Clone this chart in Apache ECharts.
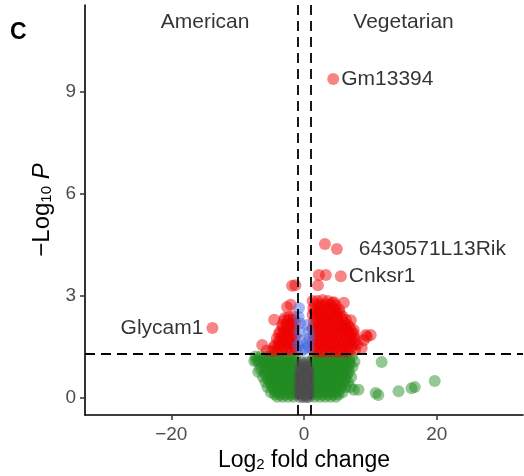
<!DOCTYPE html>
<html>
<head>
<meta charset="utf-8">
<script src="https://cdn.jsdelivr.net/npm/echarts@6/dist/echarts.min.js"></script>
<style>
html, body { margin: 0; padding: 0; background: #fff; }
#chart { width: 524px; height: 476px; }
</style>
</head>
<body>
<div id="chart"></div>
<script>
// values: [log2 fold change, -log10 p]
const xTicks = [-20, 0, 20];
const yTicks = [0, 3, 6, 9];
const groupNames = ['American', 'Vegetarian'];
const groupPos = [[-14.9, 11.06], [15, 11.06]];
const fcCut = 1;
const pCut = 1.301;

// labelled genes
const geneNames = ['Gm13394', '6430571L13Rik', 'Cnksr1', 'Glycam1'];
const geneFC = [4.4, 4.95, 5.55, -13.8];
const geneP = [9.38, 4.38, 3.58, 2.06];

// p and log2FC (red)
const sigBoth = [
  [3.15, 4.53], [2.25, 3.62], [3.3, 3.62], [2.1, 3.32], [-1.8, 3.3], [-1.3, 3.32],
  [-2.0, 2.74], [-2.55, 2.68], [-4.5, 2.3], [-6.3, 1.56], [-5.6, 1.4],
  [6.0, 2.8], [4.5, 2.82], [4.95, 2.53], [7.05, 2.29], [7.5, 2.0],
  [9.3, 1.85], [10.05, 1.85], [9.0, 1.7], [8.7, 1.47], [9.5, 1.8],
  [1.3, 2.85], [2.0, 2.85], [2.8, 2.88], [3.6, 2.85], [4.3, 2.8],
  [1.7, 2.75], [2.4, 2.75], [3.2, 2.76], [4.0, 2.74], [4.8, 2.72],
  [1.4, 2.65], [2.2, 2.65], [3.0, 2.68], [3.8, 2.65], [4.6, 2.62], [5.3, 2.6],
  [1.6, 2.55], [2.3, 2.55], [3.0, 2.56], [3.8, 2.55], [4.6, 2.53], [5.4, 2.5],
  [1.3, 2.45], [1.9, 2.45], [2.6, 2.47], [3.4, 2.45], [4.2, 2.45], [5.0, 2.42], [5.8, 2.4],
  [1.7, 2.35], [2.6, 2.35], [3.4, 2.36], [4.1, 2.35], [4.9, 2.34], [5.7, 2.32], [6.3, 2.3],
  [1.5, 2.25], [2.3, 2.25], [3.0, 2.27], [3.7, 2.25], [4.5, 2.25], [5.3, 2.22], [6.1, 2.2], [6.6, 2.15],
  [1.7, 2.15], [2.4, 2.15], [3.2, 2.16], [3.9, 2.15], [4.7, 2.15], [5.5, 2.13], [6.2, 2.1], [6.9, 2.08],
  [1.3, 2.05], [2.0, 2.05], [2.8, 2.07], [3.5, 2.05], [4.3, 2.05], [5.1, 2.05], [5.8, 2.03], [6.5, 2.0], [7.2, 1.95],
  [1.7, 1.95], [2.4, 1.95], [3.2, 1.96], [3.9, 1.95], [4.7, 1.95], [5.5, 1.94], [6.2, 1.93], [6.9, 1.9], [7.5, 1.88],
  [1.5, 1.85], [2.2, 1.85], [3.0, 1.87], [3.8, 1.85], [4.6, 1.85], [5.4, 1.85], [6.2, 1.83], [6.9, 1.8], [7.6, 1.78],
  [1.7, 1.75], [2.5, 1.75], [3.3, 1.76], [4.0, 1.75], [4.8, 1.75], [5.6, 1.74], [6.4, 1.73], [7.1, 1.72], [7.8, 1.7],
  [1.3, 1.65], [2.1, 1.65], [2.9, 1.67], [3.6, 1.65], [4.4, 1.65], [5.2, 1.65], [6.0, 1.63], [6.7, 1.62], [7.4, 1.6], [8.0, 1.58],
  [1.8, 1.55], [2.5, 1.55], [3.3, 1.56], [4.0, 1.55], [4.8, 1.55], [5.6, 1.54], [6.4, 1.53], [7.2, 1.52],
  [1.4, 1.45], [2.2, 1.45], [3.0, 1.47], [3.8, 1.45], [4.6, 1.45], [5.4, 1.45], [6.2, 1.44], [7.0, 1.43], [7.7, 1.42],
  [1.8, 1.36], [2.6, 1.36], [3.4, 1.36], [4.2, 1.36], [5.0, 1.36], [5.8, 1.36], [6.6, 1.36],
  [-1.6, 2.4], [-2.3, 2.38], [-2.9, 2.35],
  [-1.6, 2.3], [-2.3, 2.3], [-3.0, 2.28],
  [-1.3, 2.2], [-1.9, 2.2], [-2.6, 2.18], [-3.3, 2.15],
  [-1.7, 2.1], [-2.5, 2.1], [-3.2, 2.08],
  [-1.5, 2.0], [-2.2, 2.0], [-2.9, 1.98], [-3.6, 1.95],
  [-1.7, 1.9], [-2.4, 1.9], [-3.1, 1.9], [-3.8, 1.88],
  [-1.3, 1.8], [-2.0, 1.8], [-2.7, 1.8], [-3.4, 1.78], [-4.1, 1.75],
  [-1.7, 1.7], [-2.4, 1.7], [-3.1, 1.7], [-3.8, 1.68],
  [-1.5, 1.6], [-2.3, 1.6], [-3.0, 1.6], [-3.7, 1.58], [-4.4, 1.55],
  [-1.6, 1.5], [-2.4, 1.5], [-3.1, 1.5], [-3.9, 1.5], [-4.6, 1.48],
  [-1.2, 1.42], [-1.9, 1.42], [-2.6, 1.42], [-3.3, 1.4], [-4.0, 1.4], [-4.8, 1.38]
];

// p only (blue)
const pOnly = [
  [-0.75, 2.65], [-0.8, 2.38], [-0.6, 2.2], [-0.75, 1.94], [-0.9, 1.55], [-0.5, 1.7],
  [0.75, 1.94], [0.8, 1.76], [0.45, 1.62], [0.5, 2.15], [0.7, 1.5], [-0.3, 1.4], [0.2, 1.45]
];

// log2FC only (green)
const fcOnly = [
  [11.7, 1.06], [8.2, 0.24], [11.2, 0.09], [14.25, 0.2], [16.2, 0.29], [16.7, 0.32],
  [19.7, 0.5], [10.8, 0.15], [7.5, 0.24], [-7.2, 1.1], [-7.5, 1.09], [-4.8, 0.76],
  [-7.3, 1.22], [-6.5, 1.22], [-5.6, 1.22], [-4.8, 1.22], [-4.0, 1.22], [-3.2, 1.22], [-2.4, 1.22], [-1.6, 1.22],
  [1.6, 1.22], [2.4, 1.22], [3.2, 1.22], [4.0, 1.22], [4.8, 1.22], [5.6, 1.22], [6.4, 1.22], [7.2, 1.22],
  [-6.9, 1.15], [-6.1, 1.15], [-5.2, 1.15], [-4.4, 1.15], [-3.6, 1.15], [-2.8, 1.15], [-2.0, 1.15], [-1.3, 1.15],
  [1.3, 1.15], [2.0, 1.15], [2.8, 1.15], [3.6, 1.15], [4.4, 1.15], [5.2, 1.15], [6.0, 1.15], [6.8, 1.15],
  [-6.8, 1.07], [-6.0, 1.07], [-5.2, 1.07], [-4.4, 1.07], [-3.6, 1.07], [-2.8, 1.07], [-2.0, 1.07], [-1.3, 1.07],
  [1.3, 1.07], [2.0, 1.07], [2.8, 1.07], [3.6, 1.07], [4.4, 1.07], [5.2, 1.07], [6.0, 1.07], [6.8, 1.07], [7.6, 1.07],
  [-6.0, 1.0], [-5.2, 1.0], [-4.4, 1.0], [-3.6, 1.0], [-2.8, 1.0], [-2.0, 1.0], [-1.3, 1.0],
  [1.3, 1.0], [2.0, 1.0], [2.8, 1.0], [3.6, 1.0], [4.4, 1.0], [5.2, 1.0], [6.0, 1.0], [6.9, 1.0],
  [-6.4, 0.92], [-5.6, 0.92], [-4.8, 0.92], [-4.0, 0.92], [-3.2, 0.92], [-2.4, 0.92], [-1.6, 0.92],
  [1.6, 0.92], [2.4, 0.92], [3.2, 0.92], [4.0, 0.92], [4.8, 0.92], [5.6, 0.92], [6.4, 0.92], [7.3, 0.92],
  [-6.6, 0.85], [-5.8, 0.85], [-5.0, 0.85], [-4.2, 0.85], [-3.4, 0.85], [-2.6, 0.85], [-1.8, 0.85], [-1.2, 0.85],
  [1.2, 0.85], [1.8, 0.85], [2.6, 0.85], [3.4, 0.85], [4.2, 0.85], [5.0, 0.85], [5.8, 0.85], [6.6, 0.85],
  [-6.9, 0.77], [-6.0, 0.77], [-5.2, 0.77], [-4.4, 0.77], [-3.6, 0.77], [-2.8, 0.77], [-2.0, 0.77], [-1.3, 0.77],
  [1.3, 0.77], [2.0, 0.77], [2.8, 0.77], [3.6, 0.77], [4.4, 0.77], [5.2, 0.77], [6.0, 0.77], [6.8, 0.77],
  [-5.8, 0.7], [-5.0, 0.7], [-4.2, 0.7], [-3.4, 0.7], [-2.6, 0.7], [-1.8, 0.7], [-1.2, 0.7],
  [1.2, 0.7], [1.8, 0.7], [2.6, 0.7], [3.4, 0.7], [4.2, 0.7], [5.0, 0.7], [5.8, 0.7], [6.5, 0.7],
  [-6.2, 0.62], [-5.4, 0.62], [-4.6, 0.62], [-3.8, 0.62], [-3.0, 0.62], [-2.2, 0.62], [-1.5, 0.62],
  [1.5, 0.62], [2.2, 0.62], [3.0, 0.62], [3.8, 0.62], [4.6, 0.62], [5.4, 0.62], [6.2, 0.62], [7.1, 0.62],
  [-5.4, 0.55], [-4.6, 0.55], [-3.8, 0.55], [-3.0, 0.55], [-2.2, 0.55], [-1.5, 0.55],
  [1.5, 0.55], [2.2, 0.55], [3.0, 0.55], [3.8, 0.55], [4.6, 0.55], [5.4, 0.55], [6.2, 0.55],
  [-5.8, 0.47], [-5.0, 0.47], [-4.2, 0.47], [-3.4, 0.47], [-2.6, 0.47], [-1.8, 0.47], [-1.2, 0.47],
  [1.2, 0.47], [1.8, 0.47], [2.6, 0.47], [3.4, 0.47], [4.2, 0.47], [5.0, 0.47], [5.8, 0.47], [6.6, 0.47],
  [-5.0, 0.4], [-4.2, 0.4], [-3.4, 0.4], [-2.6, 0.4], [-1.9, 0.4], [-1.2, 0.4],
  [1.2, 0.4], [1.9, 0.4], [2.6, 0.4], [3.4, 0.4], [4.2, 0.4], [5.0, 0.4], [5.8, 0.4],
  [-5.5, 0.32], [-4.7, 0.32], [-3.9, 0.32], [-3.1, 0.32], [-2.3, 0.32], [-1.5, 0.32],
  [1.5, 0.32], [2.3, 0.32], [3.1, 0.32], [3.9, 0.32], [4.7, 0.32], [5.5, 0.32], [6.3, 0.32], [7.0, 0.32],
  [-4.6, 0.25], [-3.8, 0.25], [-3.0, 0.25], [-2.2, 0.25], [-1.5, 0.25],
  [1.5, 0.25], [2.2, 0.25], [3.0, 0.25], [3.8, 0.25], [4.6, 0.25], [5.4, 0.25],
  [-5.0, 0.17], [-4.2, 0.17], [-3.4, 0.17], [-2.6, 0.17], [-1.8, 0.17], [-1.2, 0.17],
  [1.2, 0.17], [1.8, 0.17], [2.6, 0.17], [3.4, 0.17], [4.2, 0.17], [5.0, 0.17], [5.8, 0.17],
  [-4.4, 0.1], [-3.6, 0.1], [-2.8, 0.1], [-2.0, 0.1], [-1.3, 0.1],
  [1.3, 0.1], [2.0, 0.1], [2.8, 0.1], [3.6, 0.1], [4.4, 0.1], [5.2, 0.1],
  [-4.0, 0.04], [-3.2, 0.04], [-2.4, 0.04], [-1.6, 0.04], [1.6, 0.04], [2.4, 0.04], [3.2, 0.04], [4.0, 0.04], [4.8, 0.04]
];

// not significant (grey)
const notSig = [
  [-0.3, 1.05], [0.3, 1.05],
  [-0.2, 0.97], [0.2, 0.97],
  [-0.5, 0.9], [0.0, 0.9], [0.5, 0.9],
  [-0.3, 0.82], [0.2, 0.82], [0.6, 0.82],
  [-0.6, 0.75], [-0.1, 0.75], [0.4, 0.75], [0.7, 0.75],
  [-0.45, 0.67], [0.05, 0.67], [0.5, 0.67],
  [-0.7, 0.6], [-0.2, 0.6], [0.3, 0.6], [0.7, 0.6],
  [-0.45, 0.52], [0.05, 0.52], [0.5, 0.52],
  [-0.7, 0.45], [-0.2, 0.45], [0.3, 0.45], [0.7, 0.45],
  [-0.45, 0.37], [0.05, 0.37], [0.5, 0.37],
  [-0.7, 0.3], [-0.2, 0.3], [0.3, 0.3], [0.7, 0.3],
  [-0.45, 0.22], [0.05, 0.22], [0.5, 0.22],
  [-0.7, 0.15], [-0.2, 0.15], [0.3, 0.15], [0.7, 0.15],
  [-0.45, 0.09], [0.05, 0.09], [0.5, 0.09],
  [-0.6, 0.03], [-0.1, 0.03], [0.4, 0.03], [0.7, 0.03]
];

const font = 'Liberation Sans, Arial, sans-serif';
const ptSize = 12;

// which side each gene label goes on
const geneSide = ['right', 'right', 'right', 'left'];
const geneGap = [2, 16, 2, 3];

var myChart = echarts.init(document.getElementById('chart'));

function pts(name, data, color, z) {
  return {
    name: name,
    type: 'scatter',
    data: data,
    symbolSize: ptSize,
    itemStyle: { color: color },
    z: z,
    silent: true
  };
}

let option = {
  animation: false,
  backgroundColor: '#fff',
  textStyle: { fontFamily: font },
  grid: { left: 85, right: 1, top: 5, bottom: 61, outerBoundsMode: 'none' },
  graphic: [
    {
      type: 'text',
      left: 10,
      top: 21,
      style: { text: 'C', fontSize: 23, fontWeight: 'bold', fontFamily: font, fill: '#000' }
    }
  ],
  xAxis: {
    type: 'value',
    min: -33,
    max: 33,
    splitLine: { show: false },
    axisLine: { onZero: false, lineStyle: { color: '#000', width: 1.6 } },
    axisTick: { customValues: xTicks, length: 5, lineStyle: { color: '#333', width: 1.5 } },
    axisLabel: {
      customValues: xTicks,
      fontSize: 19,
      color: '#4d4d4d',
      margin: 10,
      formatter: v => String(v).replace('-', '\u2212')
    },
    name: '{m|Log}{s|2}{m| fold change}',
    nameLocation: 'middle',
    nameGap: 27,
    nameTextStyle: {
      rich: {
        m: { fontSize: 23, color: '#000', fontFamily: font, lineHeight: 28, verticalAlign: 'bottom' },
        s: { fontSize: 15, color: '#000', fontFamily: font, lineHeight: 14, verticalAlign: 'bottom' }
      }
    }
  },
  yAxis: {
    type: 'value',
    min: -0.5,
    max: 11.56,
    splitLine: { show: false },
    axisLine: { onZero: false, lineStyle: { color: '#000', width: 1.6 } },
    axisTick: { customValues: yTicks, length: 5, lineStyle: { color: '#333', width: 1.5 } },
    axisLabel: { customValues: yTicks, fontSize: 19, color: '#4d4d4d', margin: 9 },
    name: '{m|\u2212Log}{s|10}{m| }{i|P}',
    nameLocation: 'middle',
    nameGap: 30,
    nameTextStyle: {
      rich: {
        m: { fontSize: 24, color: '#000', fontFamily: font, lineHeight: 28, verticalAlign: 'bottom' },
        s: { fontSize: 15, color: '#000', fontFamily: font, lineHeight: 14, verticalAlign: 'bottom' },
        i: { fontSize: 24, color: '#000', fontFamily: font, fontStyle: 'italic', lineHeight: 28, verticalAlign: 'bottom' }
      }
    }
  },
  series: [
    pts('Log2 FC', fcOnly, 'rgba(34,139,34,0.6)', 2),
    pts('p-value and log2 FC', sigBoth, 'rgba(238,0,0,0.6)', 3),
    pts('p-value', pOnly, 'rgba(65,105,225,0.6)', 4),
    pts('NS', notSig, 'rgba(77,77,77,0.6)', 5),
    {
      name: 'genes',
      type: 'scatter',
      symbolSize: ptSize,
      itemStyle: { color: 'rgba(238,0,0,0.6)' },
      z: 6,
      silent: true,
      data: geneNames.map((g, i) => ({
        value: [geneFC[i], geneP[i]],
        label: {
          show: true,
          formatter: g,
          position: geneSide[i],
          distance: geneGap[i],
          fontSize: 21,
          color: '#000',
          fontFamily: font
        }
      }))
    },
    {
      name: 'groups',
      type: 'scatter',
      symbolSize: 0,
      z: 6,
      silent: true,
      data: groupNames.map((g, i) => ({
        value: groupPos[i],
        label: { show: true, formatter: g, position: 'inside', fontSize: 21, color: '#000', fontFamily: font }
      }))
    },
    {
      name: 'cutoffs',
      type: 'scatter',
      data: [],
      z: 8,
      markLine: {
        silent: true,
        symbol: 'none',
        label: { show: false },
        lineStyle: { color: '#000', width: 1.8, type: [10, 6], opacity: 1 },
        data: [{ xAxis: -fcCut }, { xAxis: fcCut }, { yAxis: pCut }]
      }
    }
  ]
};

myChart.setOption(option);
</script>
</body>
</html>
